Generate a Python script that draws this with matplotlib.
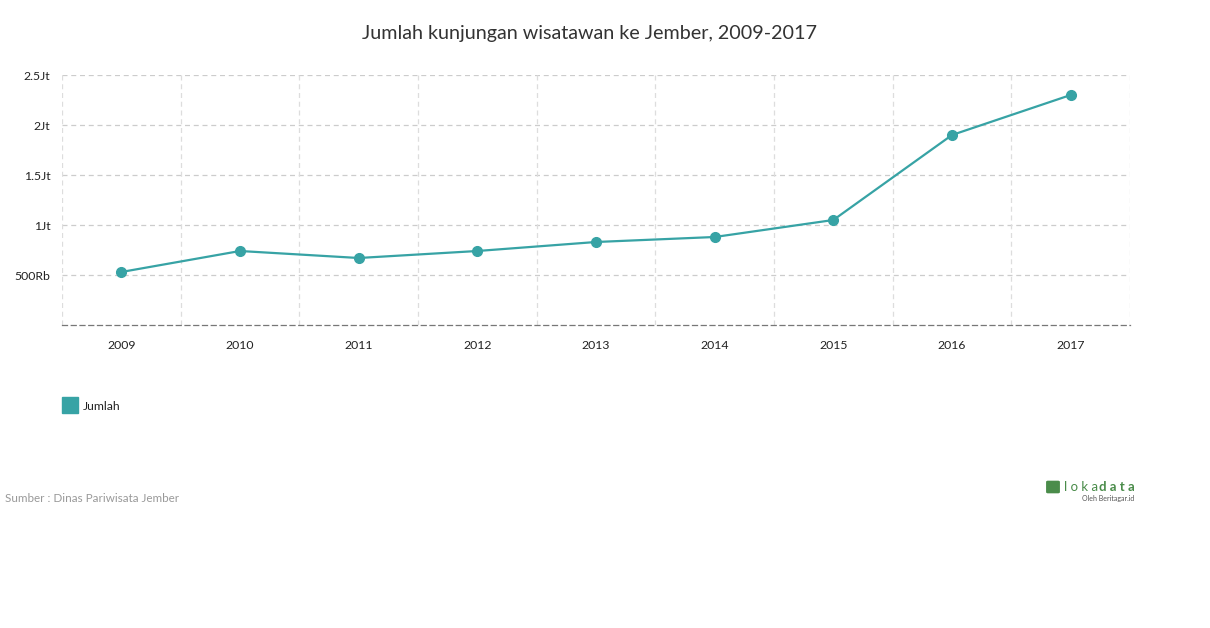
import matplotlib
matplotlib.use("Agg")
import matplotlib.pyplot as plt
from matplotlib.patches import Rectangle, FancyBboxPatch

plt.rcParams['font.family'] = ['Lato', 'DejaVu Sans']

years = ["2009", "2010", "2011", "2012", "2013", "2014", "2015", "2016", "2017"]
visitors = [530000, 740000, 670000, 740000, 830000, 880000, 1050000, 1900000, 2300000]
yticks = [500000, 1000000, 1500000, 2000000, 2500000]
ytick_labels = ["500Rb", "1Jt", "1.5Jt", "2Jt", "2.5Jt"]

W, H = 1210, 628
fig = plt.figure(figsize=(W / 100, H / 100), dpi=100)
ax = fig.add_axes([62 / W, 1 - 325 / H, (1130 - 62) / W, (325 - 75) / H])

color = "#37a3a5"
x = list(range(len(years)))
ax.plot(x, visitors, color=color, lw=1.6, marker="o", ms=7, zorder=3)

ax.set_xlim(-0.5, len(years) - 0.5)
ax.set_ylim(0, 2500000)
ax.set_yticks(yticks)
ax.set_yticklabels(ytick_labels)
ax.set_xticks(x)
ax.set_xticklabels(years)
ax.tick_params(length=0, labelsize=8.8, colors="#222222")
ax.tick_params(axis="y", pad=8.5)
ax.tick_params(axis="x", pad=11)

for yv in yticks:
    ax.axhline(yv, color="#cccccc", lw=0.9, ls=(0, (4, 3)), zorder=1)
for b in [i - 0.5 for i in range(len(years) + 1)]:
    ax.axvline(b, color="#dddddd", lw=0.9, ls=(0, (4, 3)), zorder=1)

for s in ["top", "right", "left"]:
    ax.spines[s].set_visible(False)
ax.spines["bottom"].set_color("#777777")
ax.spines["bottom"].set_linestyle((0, (4, 3)))
ax.spines["bottom"].set_linewidth(0.9)

fig.text(590 / W, 1 - 33 / H, "Jumlah kunjungan wisatawan ke Jember, 2009-2017",
         ha="center", va="center", fontsize=14.2, color="#333333")

# legend
fig.patches.append(Rectangle((62 / W, 1 - 413 / H), 16 / W, 16 / H,
                             transform=fig.transFigure, color=color))
fig.text(83 / W, 1 - 406 / H, "Jumlah", ha="left", va="center", fontsize=8.8, color="#222222")

# source
fig.text(5 / W, 1 - 498 / H, "Sumber : Dinas Pariwisata Jember", ha="left", va="center",
         fontsize=8.4, color="#999999")

# logo
fig.patches.append(FancyBboxPatch((1048 / W, 1 - 492 / H), 10 / W, 10 / H,
                                  boxstyle="round,pad=0.001", transform=fig.transFigure,
                                  color="#4a8c4a"))
fig.text(1064 / W, 1 - 487 / H, "l o k a", ha="left", va="center", fontsize=9.5,
         color="#4a8c4a")
fig.text(1135 / W, 1 - 487 / H, "d a t a", ha="right", va="center", fontsize=9.5,
         color="#4a8c4a", fontweight="bold")
fig.text(1134 / W, 1 - 498 / H, "Oleh Beritagar.id", ha="right", va="center", fontsize=5,
         color="#555555")

fig.savefig("out.png", dpi=100)
